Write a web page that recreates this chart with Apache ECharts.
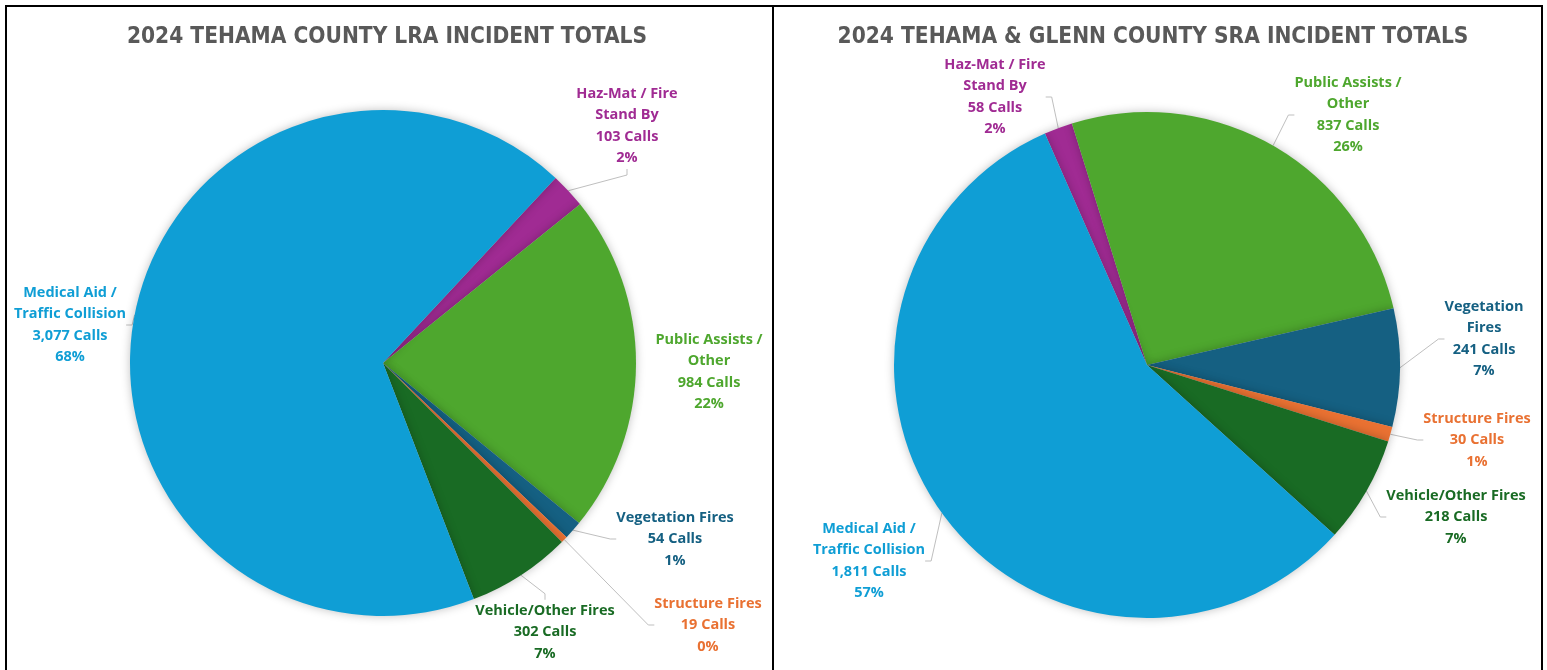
<!DOCTYPE html>
<html>
<head>
<meta charset="utf-8">
<script src="https://cdn.jsdelivr.net/npm/echarts@6/dist/echarts.min.js"></script>
<style>
  html, body { margin: 0; padding: 0; background: #fff; }
  #chart { width: 1547px; height: 670px; }
</style>
</head>
<body>
<div id="chart"></div>
<script>
const categories = ['Haz-Mat / Fire Stand By', 'Public Assists / Other', 'Vegetation Fires', 'Structure Fires', 'Vehicle/Other Fires', 'Medical Aid / Traffic Collision'];
// same categories, wrapped the way each chart prints them
const lraNames = ['Haz-Mat / Fire\nStand By', 'Public Assists /\nOther', 'Vegetation Fires', 'Structure Fires', 'Vehicle/Other Fires', 'Medical Aid /\nTraffic Collision'];
const sraNames = ['Haz-Mat / Fire\nStand By', 'Public Assists /\nOther', 'Vegetation\nFires', 'Structure Fires', 'Vehicle/Other Fires', 'Medical Aid /\nTraffic Collision'];
const lraCalls = [103, 984, 54, 19, 302, 3077];
const sraCalls = [58, 837, 241, 30, 218, 1811];
const colors = ['#a02b93', '#4ea72e', '#156082', '#e97132', '#196b24', '#0f9ed5'];

// label block centres (px)
const lraLabelSpots = [[627, 126], [709, 372], [675, 539], [708, 625], [545, 632], [70, 325]];
const sraLabelSpots = [[995, 97], [1348, 115], [1484, 339], [1477, 440], [1456, 517], [869, 561]];
// Excel draws no leader line for the label sitting right on the slice
const lraLineShown = [true, false, true, true, true, true];
const sraLineShown = [true, true, true, true, true, true];

const chart = echarts.init(document.getElementById('chart'));

const labelFont = '"Open Sans", Lato, sans-serif';
const titleFont = '"Liberation Sans Narrow", "DejaVu Sans Condensed", Roboto, sans-serif';

function makePie(names, calls, spots, lineShown, center, startAngle) {
  return {
    type: 'pie',
    center: center,
    radius: 253,
    startAngle: startAngle,
    clockwise: true,
    percentPrecision: 0,
    avoidLabelOverlap: false,
    animation: false,
    data: categories.map((name, i) => ({
      name: name,
      value: calls[i],
      itemStyle: { color: colors[i] },
      labelLine: { show: lineShown[i] }
    })),
    itemStyle: {
      shadowBlur: 10,
      shadowColor: 'rgba(0, 0, 0, 0.25)'
    },
    label: {
      show: true,
      position: 'outside',
      color: 'inherit',
      fontFamily: labelFont,
      fontWeight: 'bold',
      fontSize: 14.5,
      lineHeight: 21.5,
      align: 'center',
      formatter: (p) => `${names[p.dataIndex]}\n${p.value.toLocaleString('en-US')} Calls\n${p.percent}%`
    },
    labelLine: {
      show: true,
      length: 10,
      length2: 6,
      lineStyle: { color: '#bfbfbf', width: 1 }
    },
    labelLayout: (params) => ({
      x: spots[params.dataIndex][0],
      y: spots[params.dataIndex][1],
      align: 'center',
      verticalAlign: 'middle'
    })
  };
}

const titleStyle = {
  fontFamily: titleFont,
  fontWeight: 'bold',
  fontSize: 22.5,
  color: '#595959'
};

chart.setOption({
  backgroundColor: '#fff',
  animation: false,
  title: [
    { text: '2024 TEHAMA COUNTY LRA INCIDENT TOTALS', left: 382, top: 21, textAlign: 'center', textStyle: titleStyle },
    { text: '2024 TEHAMA & GLENN COUNTY SRA INCIDENT TOTALS', left: 1148, top: 21, textAlign: 'center', textStyle: titleStyle }
  ],
  graphic: [
    { type: 'rect', shape: { x: 6, y: 6, width: 767, height: 700 }, style: { fill: 'none', stroke: '#000', lineWidth: 2 }, silent: true },
    { type: 'rect', shape: { x: 773, y: 6, width: 769, height: 700 }, style: { fill: 'none', stroke: '#000', lineWidth: 2 }, silent: true }
  ],
  series: [
    makePie(lraNames, lraCalls, lraLabelSpots, lraLineShown, [383, 363], 47),
    makePie(sraNames, sraCalls, sraLabelSpots, sraLineShown, [1147, 365], 113.8)
  ]
});

window.addEventListener('resize', () => {
  chart.resize();
});
</script>
</body>
</html>
